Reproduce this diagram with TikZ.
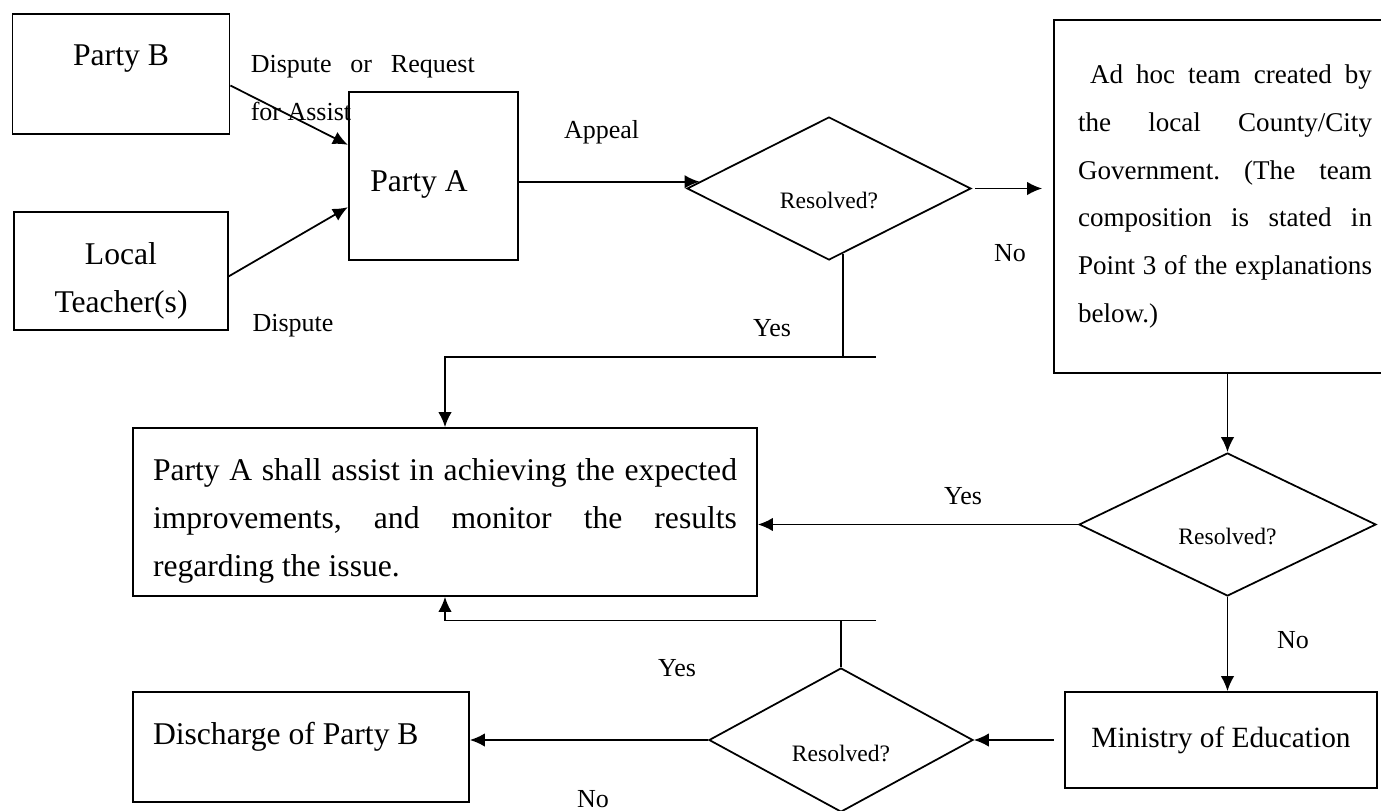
\documentclass[tikz,border=0pt]{standalone}
\usepackage{fontspec}
\setmainfont{Liberation Serif}
\usetikzlibrary{arrows.meta,positioning,shapes.geometric}
\frenchspacing

\begin{document}
\begin{tikzpicture}[line width=1pt]
	\tikzstyle{box}
	  =[draw, rectangle, inner sep=0pt]
	\tikzstyle{decision}
	  =[draw, diamond, inner sep=0pt]
	\tikzstyle{txt}
	  =[inner sep=0pt, font=\fontsize{18}{27.3}\selectfont]
	\tikzstyle{lbl}
	  =[inner sep=0pt, font=\fontsize{14.8}{27.3}\selectfont]
	\tikzstyle{qtxt}
	  =[inner sep=0pt, font=\fontsize{13.4}{16}\selectfont]
	\tikzstyle{arr}
	  =[-{Latex[length=0.3cm, width=0.27cm]}]

	\useasboundingbox (0,0) rectangle (27.62,-16.22);

	\node[box, minimum width=4.34cm, minimum height=2.4cm] (partyb)
	  at (2.42,-1.48) {};
	\node[txt] (partybtext)
	  [below=0.61cm of partyb.north] {Party B};
	\node[box, minimum width=4.27cm, minimum height=2.36cm] (teacher)
	  [below=1.52cm of partyb] {};
	\node[txt, align=center] (teachertext)
	  [below=0.62cm of teacher.north] {Local\\Teacher(s)};

	\node[box, minimum width=3.39cm, minimum height=3.36cm] (partya)
	  at (8.67,-3.52) {};
	\node[txt] (partyatext)
	  [below right=-0.12cm and 0.43cm of partya.west] {Party A};

	\node[lbl, text width=4.48cm, align=justify] (request)
	  [below right=0.82cm and 0.39cm of partyb.north east]
	  {Dispute or Request\linebreak for Assist};
	\node[lbl] (dispute)
	  [below right=2.06cm and 0.46cm of teacher.north east] {Dispute};
	\node[lbl] (appeal)
	  [below right=0.56cm and 0.88cm of partya.north east] {Appeal};

	\node[decision, minimum width=5.68cm, minimum height=2.86cm] (dec1)
	  at (16.58,-3.77) {};
	\node[qtxt] (dec1text)
	  [below=0.05cm of dec1.center] {Resolved?};

	\node[box, minimum width=6.84cm, minimum height=7.06cm, text width=5.88cm,
	  align=justify, font=\fontsize{15.4}{27.3}\selectfont] (adhoc)
	  at (24.5,-3.93) {\hspace*{0.24cm}Ad hoc team created by\linebreak
	  the local County/City\linebreak Government. (The team\linebreak
	  composition is stated in\linebreak Point 3 of the explanations\linebreak
	  below.)};

	\node[box, minimum width=12.48cm, minimum height=3.36cm] (bigbox)
	  at (8.9,-10.24) {};
	\node[txt, text width=11.68cm, align=justify] (bigboxtext)
	  [below=0.62cm of bigbox.north] {Party A shall assist in achieving
	  the expected\linebreak improvements, and monitor the
	  results\linebreak regarding the issue.};

	\node[decision, minimum width=5.94cm, minimum height=2.86cm] (dec2)
	  at (24.55,-10.49) {};
	\node[qtxt] (dec2text)
	  [below=0.05cm of dec2.center] {Resolved?};

	\node[box, minimum width=6.24cm, minimum height=1.92cm,
	  font=\fontsize{16.7}{20}\selectfont] (ministry)
	  at (24.42,-14.8) {Ministry of Education};

	\node[decision, minimum width=5.28cm, minimum height=2.88cm] (dec3)
	  at (16.82,-14.8) {};
	\node[qtxt] (dec3text)
	  [below=0.08cm of dec3.center] {Resolved?};

	\node[box, minimum width=6.72cm, minimum height=2.2cm] (discharge)
	  at (6.02,-14.94) {};
	\node[txt] (dischargetext)
	  [below right=0.6cm and 0.4cm of discharge.north west]
	  {Discharge of Party B};

	\node[lbl] (yes1) at (15.44,-6.56) {Yes};
	\node[lbl] (no1) at (20.2,-5.07) {No};
	\node[lbl] (yes2) at (19.26,-9.93) {Yes};
	\node[lbl] (no2) at (25.86,-12.8) {No};
	\node[lbl] (yes3) at (13.54,-13.36) {Yes};
	\node[lbl] (no3) at (11.86,-15.98) {No};

	\coordinate (yesl) at (8.9,-7.14);
	\coordinate (yesr) at (17.52,-7.14);
	\coordinate (backl) at (8.9,-12.41);
	\coordinate (backr) at (17.52,-12.41);

	\draw[arr] (partyb.-6)--(partya.160);
	\draw[arr] (teacher.-3)--(partya.200);
	\draw[arr] (partya.east |- dec1.177)--(dec1.177);
	\draw[arr, shorten <=0.06cm, shorten >=0.22cm]
	  (dec1.east)--(dec1.east -| adhoc.west);
	\draw (dec1.-78)--(dec1.-78 |- yesr);
	\draw[arr] (yesr)--(yesl)--(bigbox.north);
	\draw[arr] (adhoc.south -| dec2.north)--(dec2.north);
	\draw[arr] (dec2.west)--(dec2.west -| bigbox.east);
	\draw[arr] (dec2.south)--(dec2.south |- ministry.north);
	\draw[arr, shorten <=0.21cm] (ministry.west)--(dec3.east);
	\draw (dec3.north)--(dec3.north |- backr);
	\draw[arr] (backr)--(backl)--(bigbox.south);
	\draw[arr] (dec3.west)--(dec3.west -| discharge.east);
    \end{tikzpicture}
\end{document}
